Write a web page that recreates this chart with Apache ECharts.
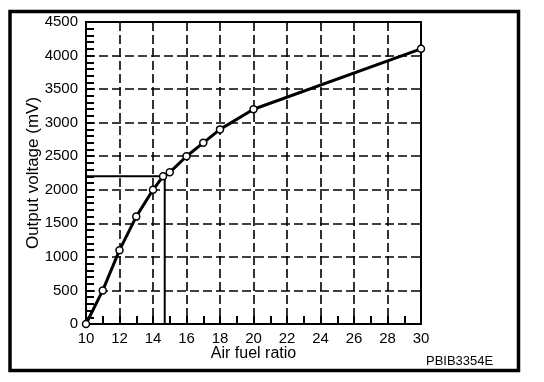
<!DOCTYPE html>
<html>
<head>
<meta charset="utf-8">
<script src="https://cdn.jsdelivr.net/npm/echarts@6/dist/echarts.min.js"></script>
<style>
html,body{margin:0;padding:0;background:#fff;}
#c{width:544px;height:382px;}
</style>
</head>
<body>
<div id="c"></div>
<script>
// Data
var afr = [10, 11, 12, 13, 14, 14.6, 15, 16, 17, 18, 20, 30];
var mv  = [0, 500, 1100, 1600, 2000, 2200, 2260, 2500, 2700, 2900, 3200, 4100];
var refAfr = 14.7;
var refMv = 2200;
var xTitle = 'Air fuel ratio';
var yTitle = 'Output voltage (mV)';
var figCode = 'PBIB3354E';

var FONT = '"Liberation Sans", Arial, Helvetica, sans-serif';

var curve = afr.map(function (x, i) { return [x, mv[i]]; });
var refLine = [[10, refMv], [refAfr, refMv], [refAfr, 0]];

var chart = echarts.init(document.getElementById('c'));
chart.setOption({
  animation: false,
  backgroundColor: '#fff',
  grid: {left: 86, right: 123, top: 22, bottom: 58},
  xAxis: [{
    type: 'value', min: 10, max: 30, interval: 2, position: 'bottom',
    name: xTitle, nameLocation: 'middle', nameGap: 22, nameMoveOverlap: false,
    nameTextStyle: {color: '#000', fontSize: 16, fontFamily: FONT},
    axisLine: {show: true, onZero: false, lineStyle: {color: '#000', width: 2}},
    axisTick: {show: true, inside: true, length: 8, lineStyle: {color: '#000', width: 2}},
    minorTick: {show: true, splitNumber: 2, length: 8, lineStyle: {color: '#000', width: 2}},
    axisLabel: {color: '#000', fontSize: 15, fontFamily: FONT, margin: 7, formatter: function (v) { return String(v); }},
    splitLine: {show: true, lineStyle: {color: '#000', width: 1.6, type: [9, 4]}}
  }, {
    type: 'value', min: 10, max: 30, interval: 2, position: 'top',
    axisLine: {show: true, onZero: false, lineStyle: {color: '#000', width: 2}},
    axisTick: {show: false}, axisLabel: {show: false}, splitLine: {show: false}
  }],
  yAxis: [{
    type: 'value', min: 0, max: 4500, interval: 500, position: 'left',
    name: yTitle, nameLocation: 'middle', nameGap: 44, nameMoveOverlap: false,
    nameTextStyle: {color: '#000', fontSize: 17, fontFamily: FONT},
    axisLine: {show: true, onZero: false, lineStyle: {color: '#000', width: 2}},
    axisTick: {show: true, inside: true, length: 8, lineStyle: {color: '#000', width: 2}},
    minorTick: {show: true, splitNumber: 5, length: 8, lineStyle: {color: '#000', width: 2}},
    axisLabel: {color: '#000', fontSize: 15, fontFamily: FONT, margin: 8, padding: [5, 0, 0, 0], formatter: function (v) { return String(v); }},
    splitLine: {show: true, lineStyle: {color: '#000', width: 1.6, type: [9, 4]}}
  }, {
    type: 'value', min: 0, max: 4500, interval: 500, position: 'right',
    axisLine: {show: true, onZero: false, lineStyle: {color: '#000', width: 2}},
    axisTick: {show: false}, axisLabel: {show: false}, splitLine: {show: false}
  }],
  series: [
    {
      type: 'line', data: refLine, symbol: 'none', silent: true, z: 2,
      lineStyle: {color: '#000', width: 2}
    },
    {
      type: 'line', data: curve, z: 3,
      smooth: false,
      symbol: 'circle', symbolSize: 7,
      itemStyle: {color: '#fff', borderColor: '#000', borderWidth: 1.5},
      lineStyle: {color: '#000', width: 3}
    }
  ],
  graphic: [
    {type: 'rect', shape: {x: 10, y: 11.5, width: 508.5, height: 359}, style: {fill: 'none', stroke: '#000', lineWidth: 3.5}, silent: true},
    {type: 'text', left: 426, top: 355, style: {text: figCode, fill: '#000', fontSize: 13, fontFamily: FONT}}
  ]
});
</script>
</body>
</html>
